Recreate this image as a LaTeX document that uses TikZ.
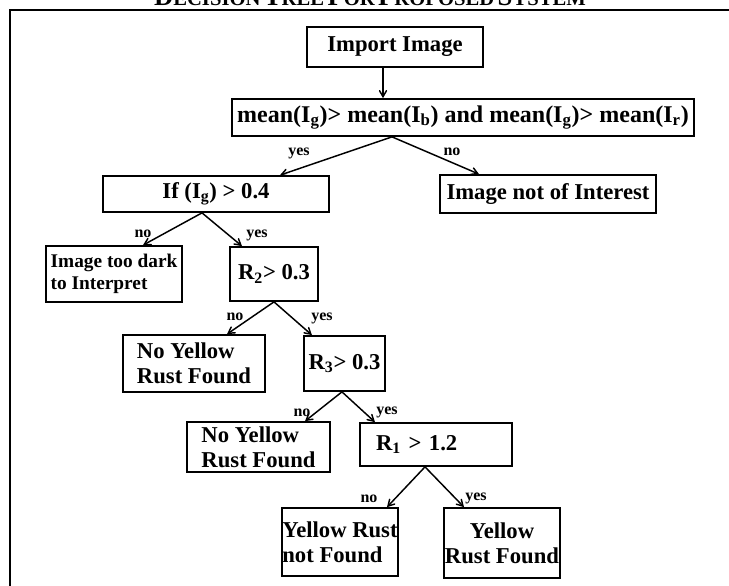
\documentclass[tikz,border=0pt]{standalone}
\usepackage{fontspec}
\setmainfont{Liberation Serif}
\usetikzlibrary{arrows}

\newcommand{\tcap}[2]{{\fontsize{20}{20}\selectfont #1}{\fontsize{15.5}{16}\selectfont #2}}

\begin{document}
\begin{tikzpicture}
	[->,>=angle 60,x=0.75pt,y=-0.75pt,line width=1.1pt,
		box node/.style={draw,line width=1.3pt,inner sep=0pt,align=center,font=\fontsize{17}{18.5}\selectfont\bfseries},
		tag node/.style={inner sep=0pt,font=\fontsize{12}{12}\selectfont\bfseries}]

	\clip (0,0) rectangle (729,586);
	\draw[-,line width=1.6pt] (10,600) -- (10,10) -- (740,10);
	\node[anchor=base,font=\bfseries] (title) at (370,5) {\tcap{D}{ECISION} \tcap{T}{REE} \tcap{F}{OR} \tcap{P}{ROPOSED} \tcap{S}{YSTEM}};

	\node[box node, minimum width=132pt, minimum height=30pt]    (imp)    at (395,47)    {Import Image};
	\node[box node, minimum width=346.5pt, minimum height=27.75pt, font=\fontsize{18}{19}\selectfont\bfseries] (mean) at (463,117.5) {mean(I\textsubscript{g})> mean(I\textsubscript{b}) and mean(I\textsubscript{g})> mean(I\textsubscript{r})};
	\node[box node, minimum width=169.5pt, minimum height=27pt]  (iff)    at (216,194)   {If (I\textsubscript{g}) > 0.4};
	\node[box node, minimum width=162pt, minimum height=28.5pt]  (noint)  at (548,194)   {Image not of Interest};
	\node[box node, minimum width=102pt, minimum height=42pt, align=left, font=\fontsize{14.5}{16}\selectfont\bfseries] (dark) at (114,274) {Image too dark\\to Interpret};
	\node[box node, minimum width=66pt, minimum height=40.5pt]   (rtwo)   at (274,274)   {R\textsubscript{2}> 0.3};
	\node[box node, minimum width=106.5pt, minimum height=42.75pt, align=left] (noyA) at (194,363.5) {No Yellow\\Rust Found};
	\node[box node, minimum width=60.75pt, minimum height=41.25pt] (rthree) at (344.5,363.5) {R\textsubscript{3}> 0.3};
	\node[box node, minimum width=107.25pt, minimum height=37.5pt, align=left] (noyB) at (258.5,447) {No Yellow\\Rust Found};
	\node[box node, text width=90pt, inner xsep=12pt, minimum height=32.25pt, align=left] (rone) at (436,444.5) {R\textsubscript{1} > 1.2};
	\node[box node, minimum width=87pt, minimum height=51pt, align=left] (ynf) at (340,542) {Yellow Rust\\not Found};
	\node[box node, minimum width=87pt, minimum height=52.5pt]   (yf)     at (502,543)   {Yellow\\Rust Found};

	% branch labels
	\node[tag node] (yesA) at (299,153) {yes};
	\node[tag node] (noA)  at (452,152) {no};
	\node[tag node] (noB)  at (143,234) {no};
	\node[tag node] (yesB) at (257,235) {yes};
	\node[tag node] (noC)  at (235,317) {no};
	\node[tag node] (yesC) at (322,318) {yes};
	\node[tag node] (noD)  at (302,413) {no};
	\node[tag node] (yesD) at (387,412) {yes};
	\node[tag node] (noE)  at (369,499) {no};
	\node[tag node] (yesE) at (476,498) {yes};

	\path[]
	([xshift=-9pt]imp.south) edge ([xshift=-9pt]imp.south |- mean.north)

	([xshift=-53.25pt]mean.south) edge ([xshift=48pt]iff.north)
	([xshift=-53.25pt]mean.south) edge ([xshift=-51.75pt]noint.north)

	([xshift=-10.5pt]iff.south) edge ([xshift=21.75pt]dark.north)
	([xshift=-10.5pt]iff.south) edge ([xshift=-24pt]rtwo.north)

	(rtwo.south) edge ([xshift=24.75pt]noyA.north)
	(rtwo.south) edge ([xshift=-24.4pt]rthree.north)

	([xshift=-1.9pt]rthree.south) edge ([xshift=34.9pt]noyB.north)
	([xshift=-1.9pt]rthree.south) edge ([xshift=-45.75pt]rone.north)

	([xshift=-8.25pt]rone.south) edge ([xshift=35.25pt]ynf.north)
	([xshift=-8.25pt]rone.south) edge ([xshift=-28.5pt]yf.north)
	;

\end{tikzpicture}
\end{document}
